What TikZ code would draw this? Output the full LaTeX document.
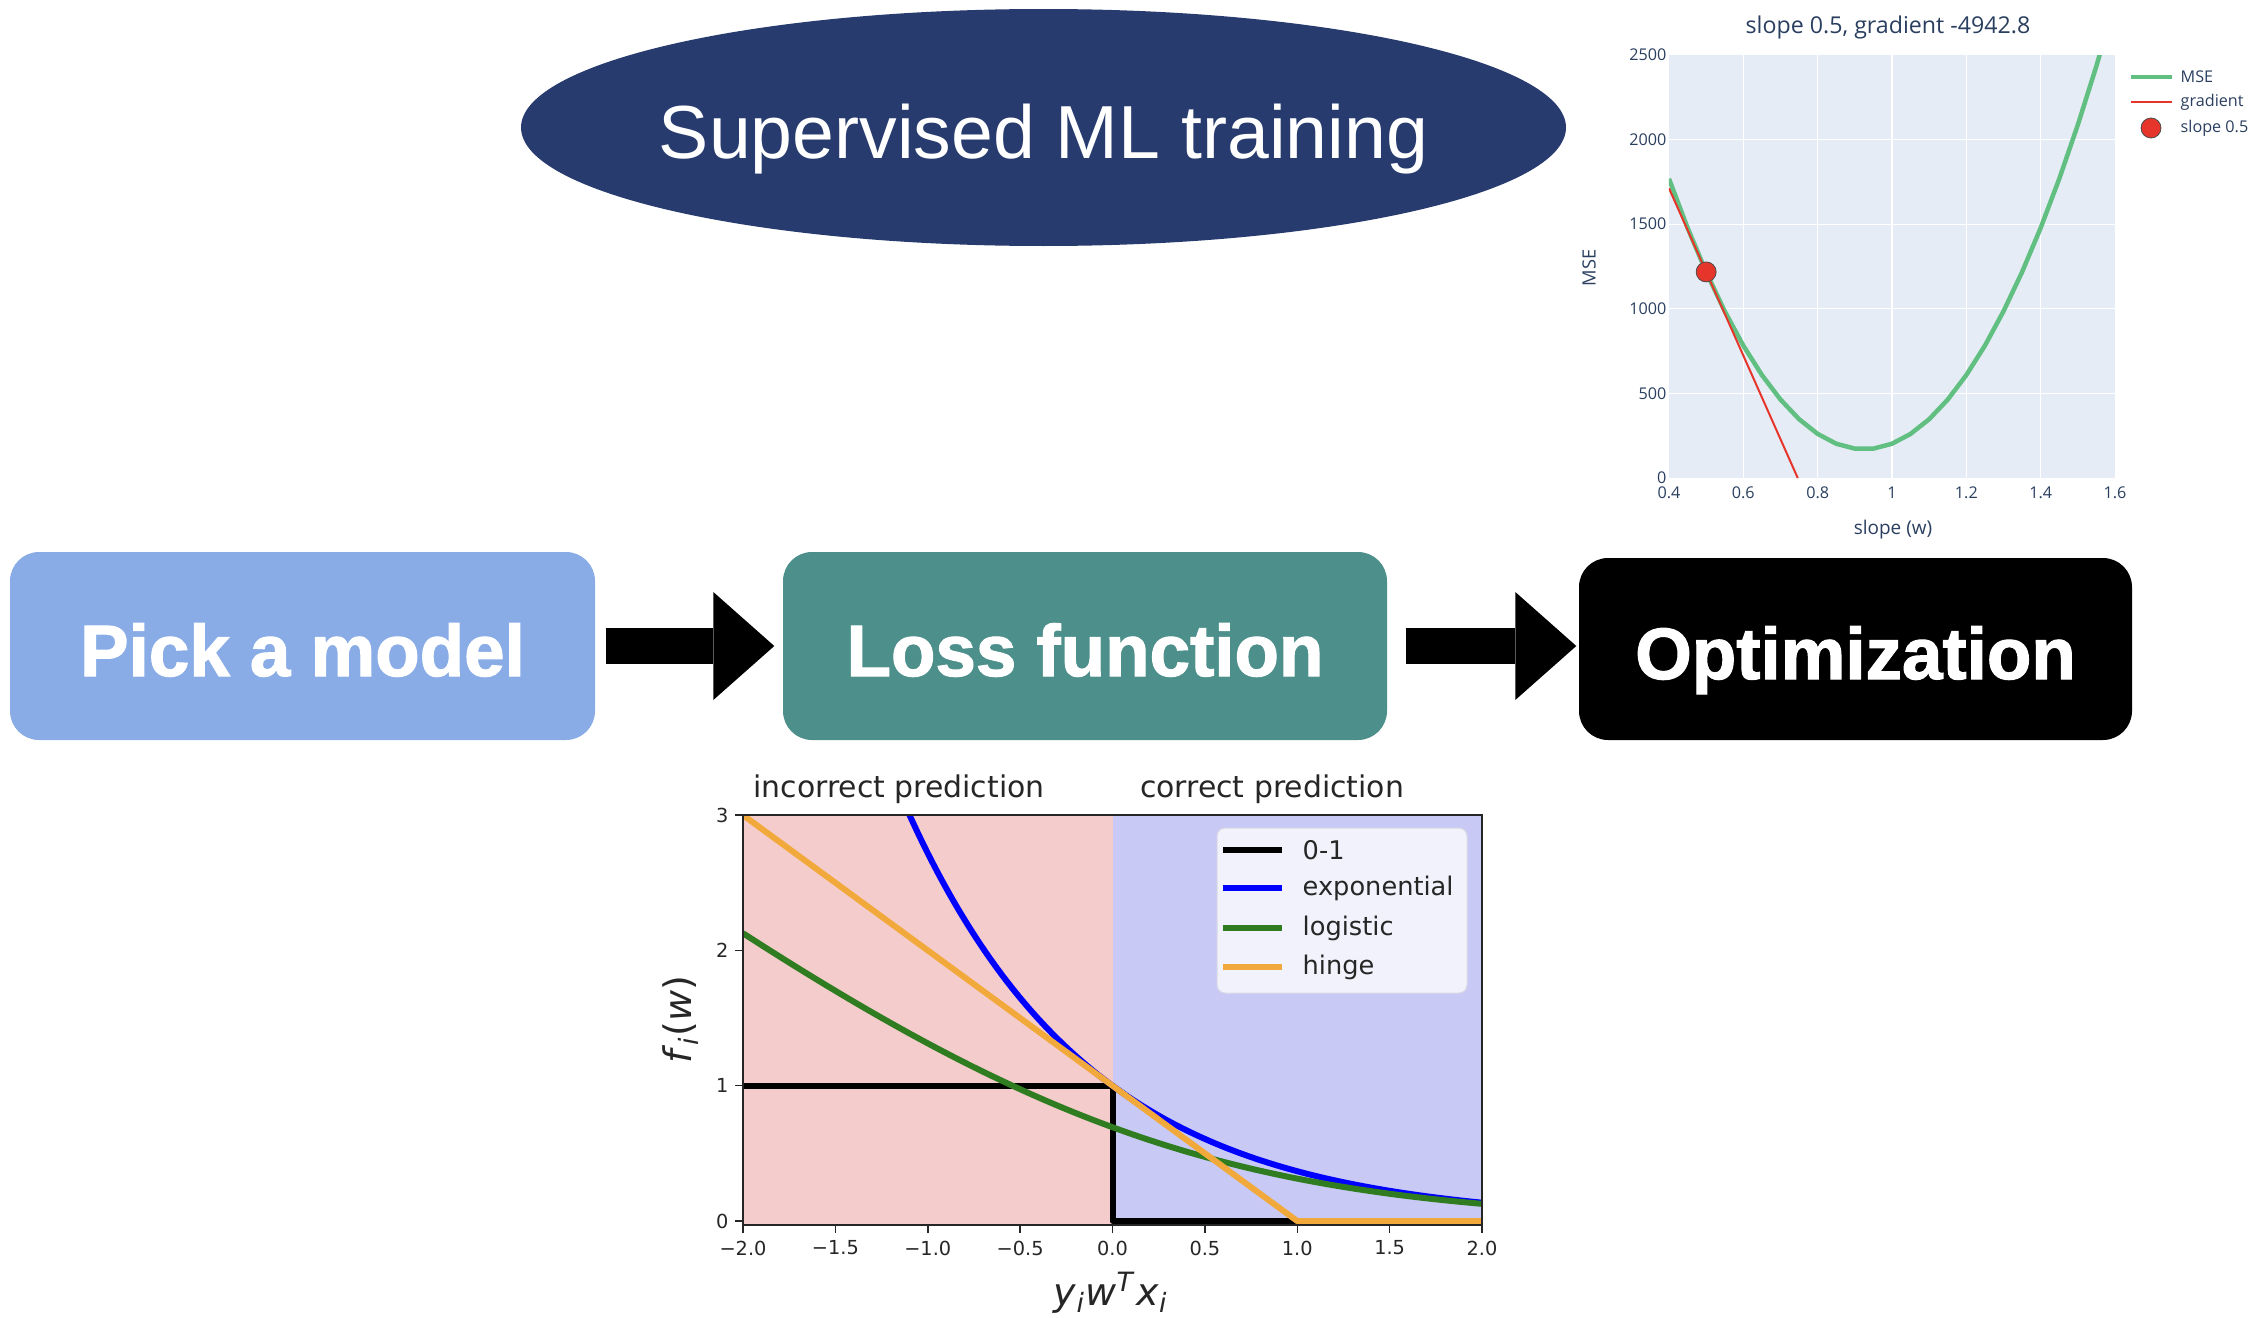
\documentclass[tikz,border=0pt]{standalone}
\usepackage{fontspec}
\setmainfont{Liberation Sans}
\newfontfamily\plotlyfont{Open Sans}
\newfontfamily\mplfont{DejaVu Sans}
\newfontfamily\heavyfont{Liberation Sans}[BoldFont=Liberation Sans Bold, BoldFeatures={FakeBold=1.6}]
\usetikzlibrary{shapes.geometric, arrows.meta, positioning}
\definecolor{NavyTitle}{HTML}{273B6E}
\definecolor{ModelBlue}{HTML}{89ACE7}
\definecolor{LossTeal}{HTML}{4C8F8B}
\definecolor{PlotlyBg}{HTML}{E5ECF6}
\definecolor{PlotlyInk}{HTML}{2A3F5F}
\definecolor{MseGreen}{HTML}{62BF82}
\definecolor{GradRed}{HTML}{E6352B}
\definecolor{WrongPink}{HTML}{F4CCCC}
\definecolor{RightLilac}{HTML}{C9C9F5}
\definecolor{LogGreen}{HTML}{2F7D20}
\definecolor{HingeOrange}{HTML}{F2A93B}
\definecolor{MplInk}{HTML}{262626}
\definecolor{LegendFill}{HTML}{F2F2FC}
\definecolor{LegendEdge}{HTML}{D9D9E6}
\newcommand{\stagefont}{\fontsize{20.7}{24}\heavyfont\bfseries}
\newcommand{\headfont}{\fontsize{21.4}{26}\selectfont}
\newcommand{\plotly}[1]{\fontsize{#1}{#1}\plotlyfont\color{PlotlyInk}}
\newcommand{\mpl}[1]{\fontsize{#1}{#1}\mplfont\color{MplInk}}

\begin{document}
\begin{tikzpicture}[x=0.1mm, y=-0.1mm,
    stage/.style={rectangle, rounded corners=2.9mm, inner sep=0pt, text=white,
        font=\stagefont, text height=6mm, text depth=0pt},
    flow/.style={line width=3.6mm, -{Triangle[length=6.1mm, width=10.8mm, line width=0pt]}},
    lossline/.style={line width=0.6mm, line join=round}]
    \useasboundingbox (0,0) rectangle (2260,1318);

    % Title and pipeline
    \node[ellipse, fill=NavyTitle, minimum width=104.5mm, minimum height=23.7mm, inner sep=0pt,
        text=white, font=\headfont, text height=6.2mm, text depth=0pt] (title) at (1043.5,127.5) {\makebox[0pt]{Supervised ML training}};
    \node[stage, fill=ModelBlue, minimum width=58.5mm, minimum height=18.8mm] (model) at (302.5,646) {Pick a model};
    \node[stage, fill=LossTeal, minimum width=60.4mm, minimum height=18.8mm] (loss) at (1085,646) {Loss function};
    \node[stage, fill=black, minimum width=55.3mm, minimum height=18.2mm] (optim) at (1855.5,649) {Optimization};
    \draw[flow] ([xshift=1mm]model.east) -- ([xshift=-0.8mm]loss.west);
    \draw[flow] ([xshift=1.8mm]loss.east) -- ([xshift=-0.2mm]optim.west |- loss.east);


    % Gradient plot
    \node[font=\plotly{6.6}] (msetitle) at (1888,27) {slope 0.5, gradient -4942.8};
    \begin{scope}[shift={(1520.3,478)}, x=37.17mm, y=0.01692mm]
        \fill[PlotlyBg] (0.4,0) rectangle (1.6,2500);
        \foreach \w in {0.6,0.8,...,1.4} {
            \draw[white, line width=0.12mm] (\w,0) -- (\w,2500);
        }
        \foreach \m in {500,1000,...,2000} {
            \draw[white, line width=0.12mm] (0.4,\m) -- (1.6,\m);
        }
        \foreach \w [count=\i] in {0.4,0.6,0.8,1,1.2,1.4,1.6} {
            \node[font=\plotly{4.6}, anchor=north, inner sep=0pt, yshift=-0.8mm] (wtick\i) at (\w,0) {\w};
        }
        \foreach \m [count=\i] in {0,500,1000,1500,2000,2500} {
            \node[font=\plotly{4.6}, anchor=east, inner sep=0pt, xshift=-0.2mm] (msetick\i) at (0.4,\m) {\m};
        }
        \begin{scope}
            \clip (0.4,0) rectangle (1.6,2500);
            \draw[MseGreen, line width=0.45mm, line join=round] plot[domain=0.4:1.6, samples=25] (\x,{5800*(\x-0.925)^2+170});
            \draw[GradRed, line width=0.2mm] (0.4,1712.6) -- (0.7464,0);
        \end{scope}
        \node[circle, fill=GradRed, draw=black!70, line width=0.08mm, minimum size=2mm, inner sep=0pt] (slopedot) at (0.5,1218) {};
    \end{scope}
    \node[font=\plotly{5.2}, rotate=90] (mseaxis) at (1589,268) {MSE};
    \node[font=\plotly{5.4}] (slopeaxis) at (1893,530) {slope (w)};
    \draw[MseGreen, line width=0.45mm] (2131,77) -- (2172,77);
    \draw[GradRed, line width=0.2mm] (2131,102) -- (2172,102);
    \node[circle, fill=GradRed, draw=black!70, line width=0.08mm, minimum size=2mm, inner sep=0pt] (keydot) at (2151,128) {};
    \node[font=\plotly{4.6}, anchor=west, inner sep=0pt] (keymse) at (2180,77) {MSE};
    \node[font=\plotly{4.6}, anchor=west, inner sep=0pt] (keygrad) at (2180,102) {gradient};
    \node[font=\plotly{4.6}, anchor=west, inner sep=0pt] (keyslope) at (2180,128) {slope 0.5};


    % Loss comparison plot
    \node[font=\mpl{8.5}] (wrong) at (899,789) {incorrect prediction};
    \node[font=\mpl{8.5}] (right) at (1272,789) {correct prediction};
    \begin{scope}[shift={(1112.5,1221)}, x=18.475mm, y=13.53mm]
        \fill[WrongPink] (-2,-0.03) rectangle (0,3);
        \fill[RightLilac] (0,-0.03) rectangle (2,3);
        \begin{scope}
            \clip (-2,-0.03) rectangle (2,3);
            \draw[black, lossline] (-2,1) -- (0,1) -- (0,0) -- (2,0);
            \draw[blue, lossline] plot[domain=-1.1:2, samples=60, smooth] (\x,{exp(-\x)});
            \draw[LogGreen, lossline] plot[domain=-2:2, samples=40, smooth] (\x,{ln(1+exp(-\x))});
            \draw[HingeOrange, lossline] (-2,3) -- (1,0) -- (2,0);
        \end{scope}
        \draw[MplInk, line width=0.15mm] (-2,-0.03) rectangle (2,3);
        \foreach \t/\lab [count=\i] in {-2/{−2.0},-1.5/{−1.5},-1/{−1.0},-0.5/{−0.5},0/{0.0},0.5/{0.5},1/{1.0},1.5/{1.5},2/{2.0}} {
            \draw[MplInk, line width=0.15mm] (\t,-0.03) -- ++(0,-0.8mm);
            \node[font=\mpl{5.5}, anchor=north, inner sep=0pt, yshift=-1.5mm] (xtick\i) at (\t,-0.03) {\lab};
        }
        \foreach \t in {0,1,2,3} {
            \draw[MplInk, line width=0.15mm] (-2,\t) -- ++(-0.8mm,0);
            \node[font=\mpl{5.5}, anchor=east, inner sep=0pt, xshift=-1.4mm] (ytick\t) at (-2,\t) {\t};
        }
    \end{scope}
    \node[font=\mpl{10.8}, rotate=90] (faxis) at (681,1020) {\textit{f}\textsubscript{\textit{i}}(\textit{w})};
    \node[font=\mpl{10.8}] (marginaxis) at (1111,1293) {\textit{y}\textsubscript{\textit{i}}\textit{w}\textsuperscript{\textit{T}}\textit{x}\textsubscript{\textit{i}}};

    % Legend
    \draw[LegendEdge, fill=LegendFill, rounded corners=0.8mm, line width=0.1mm] (1217,828) rectangle (1467,993);
    \foreach \c/\name/\y [count=\i] in {black/0-1/850, blue/exponential/888, LogGreen/logistic/928, HingeOrange/hinge/967} {
        \draw[\c, line width=0.6mm] (1223,\y) -- (1282,\y);
        \node[font=\mpl{7.3}, anchor=west, inner sep=0pt] (lossKey\i) at (1302,\y) {\name};
    }
\end{tikzpicture}
\end{document}
